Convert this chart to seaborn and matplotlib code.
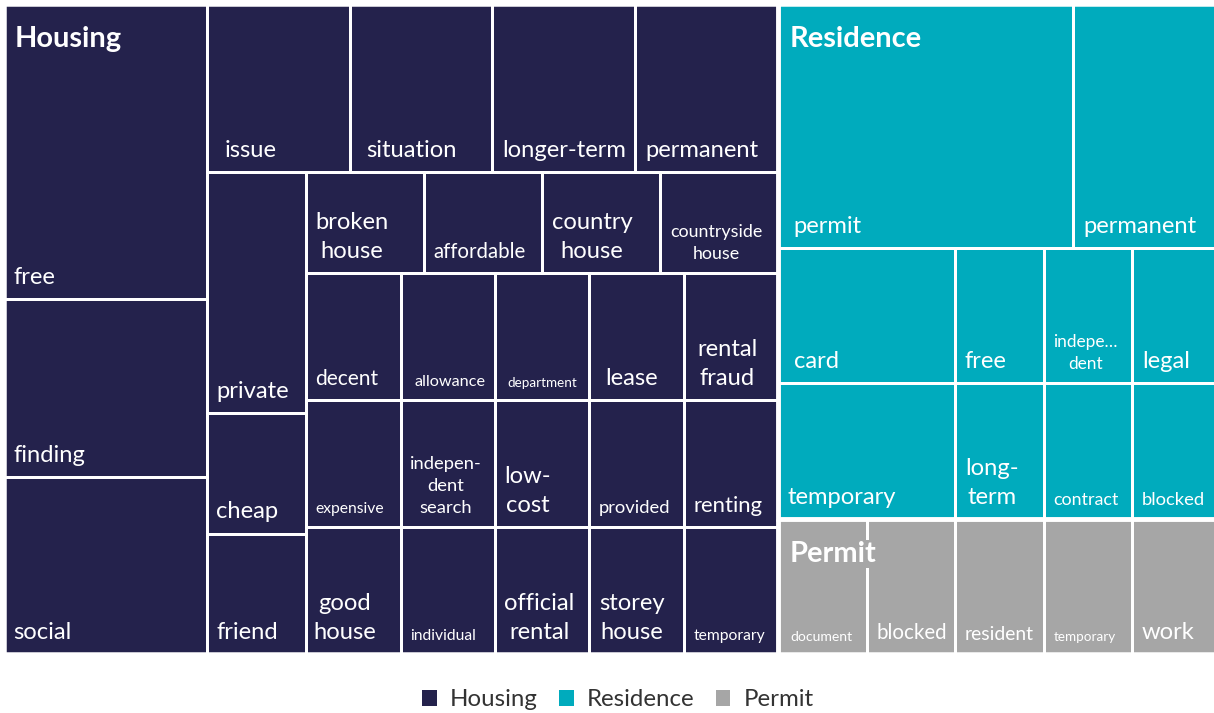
import matplotlib
matplotlib.use("Agg")
import matplotlib.pyplot as plt
from matplotlib.patches import Rectangle, Patch
import seaborn as sns

# --- data: word counts per topic ---
groups = ["Housing", "Residence", "Permit"]

housing_words = ["free", "finding", "social", "issue", "situation", "longer-term",
                 "permanent", "private", "cheap", "friend", "broken\nhouse", "affordable",
                 "country\nhouse", "countryside\nhouse", "decent", "expensive", "good\nhouse",
                 "allowance", "department", "lease", "rental\nfraud",
                 "indepen-\ndent\nsearch", "individual", "low-\ncost", "provided", "renting",
                 "official\nrental", "storey\nhouse", "temporary"]
housing_counts = [5, 3, 3, 2, 2, 2, 2, 2, 1, 1, 1, 1, 1, 1, 1, 1, 1, 1, 1, 1, 1,
                  1, 1, 1, 1, 1, 1, 1, 1]

residence_words = ["permit", "permanent", "card", "temporary", "free", "indepe…\ndent",
                   "legal", "long-\nterm", "contract", "blocked"]
residence_counts = [6, 3, 2, 2, 1, 1, 1, 1, 1, 1]

permit_words = ["document", "blocked", "resident", "temporary", "work"]
permit_counts = [1, 1, 1, 1, 1]

# --- style ---
group_colors = ["#24224c", "#00abbd", "#a6a6a6"]
group_algorithm = {"Housing": "squarified", "Residence": "squarified", "Permit": "slice"}
LAYOUT_H = 0.52          # layout space is 1 x LAYOUT_H, stretched onto the plot box
PT = 72 / 100            # px -> pt at dpi 100
FONT_SCALE = 1.08        # Lato runs a bit smaller than the original face
label_px = {
    ("Housing", "affordable"): 19, ("Housing", "countryside\nhouse"): 16.5,
    ("Housing", "decent"): 19.5, ("Housing", "expensive"): 14.5,
    ("Housing", "allowance"): 15, ("Housing", "department"): 12.5,
    ("Housing", "indepen-\ndent\nsearch"): 17, ("Housing", "individual"): 14.5,
    ("Housing", "provided"): 17, ("Housing", "renting"): 20.5,
    ("Housing", "temporary"): 14.5,
    ("Residence", "indepe…\ndent"): 16, ("Residence", "contract"): 16.5,
    ("Residence", "blocked"): 17,
    ("Permit", "document"): 13, ("Permit", "blocked"): 19, ("Permit", "resident"): 18,
    ("Permit", "temporary"): 12.5,
}
# extra left inset (px) of a few labels
label_dx = {
    ("Housing", "issue"): 8, ("Housing", "situation"): 7, ("Housing", "lease"): 6,
    ("Housing", "rental\nfraud"): 4, ("Housing", "allowance"): 4,
    ("Housing", "department"): 3, ("Housing", "good\nhouse"): -2,
    ("Residence", "card"): 6, ("Residence", "permit"): 6, ("Permit", "document"): 3,
}


def ratio(a, b):
    return max(a / b, b / a)


def squarified(values, x, y, w, h, direction=0):
    """Low-aspect-ratio strips, alternating column / row."""
    total = sum(values)
    areas = [v / total * w * h for v in values]
    rects = []
    i = 0
    while i < len(areas):
        side = h if direction == 0 else w
        strip = [areas[i]]
        i += 1
        while i < len(areas):
            old_t = sum(strip) / side
            new_t = (sum(strip) + areas[i]) / side
            last = strip[-1]
            if ratio(new_t, last / new_t) > ratio(old_t, last / old_t):
                break
            strip.append(areas[i])
            i += 1
        t = sum(strip) / side
        pos = y if direction == 0 else x
        for a in strip:
            length = a / t
            if direction == 0:
                rects.append((x, pos, t, length, direction))
            else:
                rects.append((pos, y, length, t, direction))
            pos += length
        if direction == 0:
            x, w = x + t, w - t
        else:
            y, h = y + t, h - t
        direction = 1 - direction
    return rects


def slice_layout(values, x, y, w, h, direction=0):
    total = sum(values)
    rects = []
    for v in values:
        cw = v / total * w
        rects.append((x, y, cw, h, direction))
        x += cw
    return rects


words = {"Housing": housing_words, "Residence": residence_words, "Permit": permit_words}
counts = {"Housing": housing_counts, "Residence": residence_counts, "Permit": permit_counts}
totals = [sum(counts[g]) for g in groups]

sns.set_theme(style="white")
plt.rcParams["font.family"] = ["Lato", "DejaVu Sans"]

fig = plt.figure(figsize=(12.14, 7.13), dpi=100)
X0, X1, Y0, Y1 = 3.75, 1221.0, 3.75, 654.25
ax = fig.add_axes([X0 / 1214, 1 - Y1 / 713, (X1 - X0) / 1214, (Y1 - Y0) / 713])
ax.set_xlim(0, 1)
ax.set_ylim(LAYOUT_H, 0)
ax.axis("off")

layouts = {"squarified": squarified, "slice": slice_layout}
top = squarified(totals, 0, 0, 1, LAYOUT_H, 0)

for g, color, (gx, gy, gw, gh, gd) in zip(groups, group_colors, top):
    cells = layouts[group_algorithm[g]](counts[g], gx, gy, gw, gh, gd)
    for word, (x, y, w, h, _) in zip(words[g], cells):
        ax.add_patch(Rectangle((x, y), w, h, facecolor=color, edgecolor="white",
                               linewidth=3 * PT, zorder=1))
        size = label_px.get((g, word), 22) * FONT_SCALE
        dx = (9.5 + label_dx.get((g, word), 0)) * PT
        ax.annotate(word, xy=(x, y + h), xytext=(dx, 8), textcoords="offset points",
                    ha="left", va="bottom", multialignment="center", linespacing=1.45,
                    color="white", fontsize=size * PT, zorder=3)
    ax.add_patch(Rectangle((gx, gy), gw, gh, fill=False, edgecolor="white",
                           linewidth=4.5 * PT, zorder=2))
    ax.annotate(g, xy=(gx, gy), xytext=(8, -16), textcoords="offset points",
                ha="left", va="top", color="white", fontsize=29 * PT,
                fontweight="bold", zorder=4,
                bbox=dict(boxstyle="square,pad=0.05", facecolor=color, edgecolor="none"))

handles = [Patch(facecolor=c, edgecolor="none", label=g) for g, c in zip(groups, group_colors)]
fig.legend(handles=handles, loc="center", bbox_to_anchor=(618 / 1214, 1 - 700 / 713),
           ncol=3, frameon=False, fontsize=24 * PT, handlelength=0.6, handleheight=0.6,
           handletextpad=0.55, columnspacing=0.9, labelcolor="#333333")

fig.savefig("out.png", dpi=100)
